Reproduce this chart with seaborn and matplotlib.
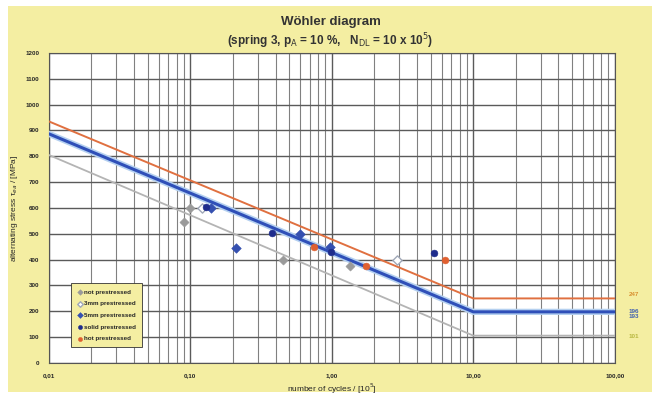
import matplotlib
matplotlib.use("Agg")
import matplotlib.pyplot as plt
import matplotlib.patches as mpatches
from matplotlib.ticker import FixedLocator, LogLocator, NullFormatter
import seaborn as sns
import pandas as pd

# ---- data ----
line_x = [0.01, 10, 100]
blue_line = [887, 198, 198]
red_line = [935, 250, 250]
gray_line = [805, 106, 106]

not_x = [0.09, 0.10, 0.45, 1.35]
not_y = [545, 600, 400, 375]
pre3_x = [0.12, 2.9]
pre3_y = [600, 400]
pre5_x = [0.14, 0.21, 0.60, 0.97]
pre5_y = [600, 445, 500, 450]
solid_x = [0.13, 0.38, 0.98, 5.3]
solid_y = [605, 505, 430, 425]
hot_x = [0.75, 1.75, 6.3]
hot_y = [450, 375, 400]

legend_labels = ["not prestressed", "3mm prestressed", "5mm prestressed",
                 "solid prestressed", "hot prestressed"]
xtick_vals = [0.01, 0.1, 1, 10, 100]
xtick_labels = ["0,01", "0,10", "1,00", "10,00", "100,00"]
ytick_vals = list(range(0, 1300, 100))
right_labels = ["247", "196", "193", "101"]
right_vals = [265, 200, 180, 102]

# ---- figure ----
sns.set_theme(style="white")
plt.rcParams['font.family'] = ['Liberation Sans', 'DejaVu Sans']

YEL = "#f4eea2"
fig = plt.figure(figsize=(6.61, 3.96), dpi=100, facecolor="white")
fig.patches.append(mpatches.Rectangle((0.012, 0.01), 0.975, 0.975,
                                      transform=fig.transFigure,
                                      facecolor=YEL, edgecolor="none", zorder=-10))
ax = fig.add_axes([0.074, 0.0833, 0.856, 0.783])
ax.set_facecolor("white")

ax.set_xscale("log")
ax.set_xlim(0.01, 100)
ax.set_ylim(0, 1200)

# grid
ax.xaxis.set_major_locator(FixedLocator(xtick_vals))
ax.xaxis.set_minor_locator(LogLocator(base=10, subs=range(2, 10)))
ax.xaxis.set_minor_formatter(NullFormatter())
ax.set_xticks(xtick_vals)
ax.set_xticklabels(xtick_labels)
ax.set_yticks(ytick_vals)
ax.grid(True, which="major", axis="both", color="#5a5a5a", lw=1.0)
ax.grid(True, which="minor", axis="x", color="#808080", lw=0.8)
ax.set_axisbelow(True)

lines_df = pd.DataFrame({"x": line_x, "blue": blue_line, "red": red_line, "gray": gray_line})
sns.lineplot(data=lines_df, x="x", y="gray", ax=ax, color="#b4b4b4", lw=1.3, zorder=3)
sns.lineplot(data=lines_df, x="x", y="red", ax=ax, color="#e07040", lw=1.4, zorder=3)
sns.lineplot(data=lines_df, x="x", y="blue", ax=ax, color="#b4d0f0", lw=4.5, zorder=3)
sns.lineplot(data=lines_df, x="x", y="blue", ax=ax, color="#2f4fb8", lw=2.2, zorder=4)

sns.scatterplot(x=not_x, y=not_y, ax=ax, marker="D", s=22, color="#9a9a9a",
                edgecolor="#9a9a9a", zorder=5, label=legend_labels[0])
sns.scatterplot(x=pre3_x, y=pre3_y, ax=ax, marker="D", s=22, color="white",
                edgecolor="#a0a8b8", linewidth=1, zorder=5, label=legend_labels[1])
sns.scatterplot(x=pre5_x, y=pre5_y, ax=ax, marker="D", s=24, color="#3550b0",
                edgecolor="#3550b0", zorder=5, label=legend_labels[2])
sns.scatterplot(x=solid_x, y=solid_y, ax=ax, marker="o", s=24, color="#1e2c8c",
                edgecolor="#1e2c8c", zorder=5, label=legend_labels[3])
sns.scatterplot(x=hot_x, y=hot_y, ax=ax, marker="o", s=24, color="#e06030",
                edgecolor="#e06030", zorder=5, label=legend_labels[4])

leg = ax.legend(loc="lower left", bbox_to_anchor=(0.034, 0.04), fontsize=4.5,
                frameon=True, fancybox=False, facecolor=YEL, edgecolor="#333333",
                framealpha=1, borderpad=1.0, labelspacing=1.0, handletextpad=0.2,
                handlelength=0.8, markerscale=0.6)
leg.get_frame().set_linewidth(0.6)
for t in leg.get_texts():
    t.set_fontweight("bold")

for sp in ax.spines.values():
    sp.set_color("#555555")
    sp.set_linewidth(0.8)
ax.tick_params(axis="both", which="both", length=0, labelsize=4.5, pad=7)
for lab in ax.get_xticklabels() + ax.get_yticklabels():
    lab.set_fontweight("bold")

ax.set_xlabel("number of cycles / [10$^5$]", fontsize=6, labelpad=3)
ax.set_ylabel("alternating stress τ$_{ea}$ / [MPa]", fontsize=6, labelpad=4)

# right labels
rcols = ["#d89030", "#4060b0", "#4060b0", "#b8b840"]
for lbl, v, c in zip(right_labels, right_vals, rcols):
    ax.text(125, v, lbl, color=c, fontsize=4.5, fontweight="bold",
            ha="left", va="center", clip_on=False)

fig.text(0.5, 0.944, "Wöhler diagram", ha="center", va="center",
         fontsize=9.5, fontweight="bold", color="#333333")
fig.text(0.5, 0.896, r"(spring 3, p$_\mathrm{A}$ = 10 %,   N$_\mathrm{DL}$ = 10 x 10$^5$)",
         ha="center", va="center", fontsize=8.5, fontweight="bold", color="#333333")

fig.savefig("out.png", dpi=100, facecolor=fig.get_facecolor())
